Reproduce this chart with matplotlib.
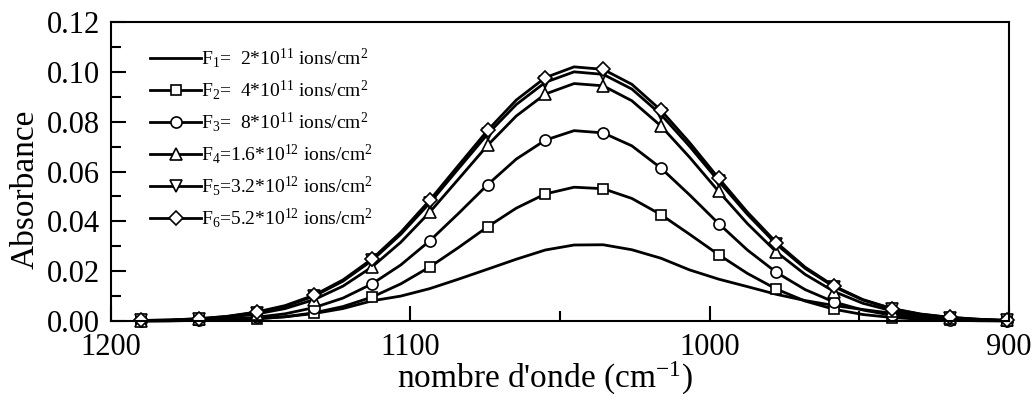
import numpy as np
import matplotlib
matplotlib.use("Agg")
import matplotlib.pyplot as plt
from matplotlib.ticker import MultipleLocator

plt.rcParams['font.family'] = ['Liberation Serif', 'DejaVu Serif']
plt.rcParams['mathtext.fontset'] = 'custom'
plt.rcParams['mathtext.rm'] = 'Liberation Serif'
plt.rcParams['mathtext.it'] = 'Liberation Serif:italic'

# wavenumber grid (cm^-1): marker positions alternate with in-between line points
wavenumber = [1190.0, 1180.4, 1170.7, 1161.1, 1151.4, 1141.8, 1132.1, 1122.5,
              1112.8, 1103.2, 1093.5, 1083.9, 1074.2, 1064.6, 1054.9, 1045.3,
              1035.6, 1026.0, 1016.3, 1006.7, 997.0, 987.4, 977.7, 968.1,
              958.4, 948.8, 939.1, 929.5, 919.8, 910.2, 900.5]

abs_F1 = [0.0000, 0.0001, 0.0002, 0.0005, 0.0009, 0.0017, 0.0030, 0.0050,
          0.0081, 0.0100, 0.0130, 0.0168, 0.0208, 0.0248, 0.0285, 0.0305,
          0.0306, 0.0286, 0.0252, 0.0205, 0.0168, 0.0138, 0.0107, 0.0082,
          0.0062, 0.0046, 0.0031, 0.0019, 0.0010, 0.0005, 0.0002]
abs_F2 = [0.0000, 0.0001, 0.0002, 0.0004, 0.0009, 0.0017, 0.0033, 0.0058,
          0.0096, 0.0149, 0.0217, 0.0295, 0.0378, 0.0453, 0.0510, 0.0537,
          0.0531, 0.0492, 0.0427, 0.0348, 0.0266, 0.0191, 0.0128, 0.0080,
          0.0047, 0.0026, 0.0014, 0.0007, 0.0003, 0.0001, 0.0000]
abs_F3 = [0.0001, 0.0001, 0.0003, 0.0007, 0.0015, 0.0029, 0.0054, 0.0092,
          0.0149, 0.0225, 0.0322, 0.0432, 0.0547, 0.0650, 0.0726, 0.0764,
          0.0755, 0.0703, 0.0614, 0.0506, 0.0391, 0.0285, 0.0195, 0.0126,
          0.0076, 0.0044, 0.0023, 0.0012, 0.0006, 0.0002, 0.0001]
abs_F4 = [0.0001, 0.0003, 0.0007, 0.0014, 0.0028, 0.0050, 0.0086, 0.0140,
          0.0217, 0.0316, 0.0437, 0.0570, 0.0705, 0.0823, 0.0911, 0.0953,
          0.0944, 0.0884, 0.0783, 0.0657, 0.0520, 0.0391, 0.0277, 0.0187,
          0.0118, 0.0071, 0.0041, 0.0022, 0.0011, 0.0005, 0.0002]
abs_F5 = [0.0002, 0.0004, 0.0009, 0.0018, 0.0034, 0.0059, 0.0100, 0.0160,
          0.0243, 0.0348, 0.0474, 0.0612, 0.0750, 0.0869, 0.0958, 0.1000,
          0.0990, 0.0931, 0.0829, 0.0701, 0.0561, 0.0428, 0.0308, 0.0211,
          0.0137, 0.0084, 0.0049, 0.0027, 0.0014, 0.0007, 0.0002]
abs_F6 = [0.0002, 0.0004, 0.0009, 0.0019, 0.0036, 0.0062, 0.0104, 0.0165,
          0.0249, 0.0356, 0.0485, 0.0625, 0.0765, 0.0887, 0.0977, 0.1020,
          0.1010, 0.0950, 0.0846, 0.0716, 0.0573, 0.0437, 0.0315, 0.0216,
          0.0140, 0.0086, 0.0050, 0.0028, 0.0015, 0.0007, 0.0002]

labels = [r'F$_1$=  2*10$^{11}$ ions/cm$^2$',
          r'F$_2$=  4*10$^{11}$ ions/cm$^2$',
          r'F$_3$=  8*10$^{11}$ ions/cm$^2$',
          r'F$_4$=1.6*10$^{12}$ ions/cm$^2$',
          r'F$_5$=3.2*10$^{12}$ ions/cm$^2$',
          r'F$_6$=5.2*10$^{12}$ ions/cm$^2$']
series = [abs_F1, abs_F2, abs_F3, abs_F4, abs_F5, abs_F6]
markers = [None, 's', 'o', '^', 'v', 'D']
msizes = [0, 7.5, 8, 8, 8, 7]

fig = plt.figure(figsize=(10.34, 3.96), dpi=100)
ax = fig.add_axes([0.1074, 0.1894, 0.8684, 0.755])

for y, lab, m, ms in zip(series, labels, markers, msizes):
    ax.plot(wavenumber, y, color='black', lw=2, marker=m, markevery=2,
            markersize=ms, markerfacecolor='white', markeredgecolor='black',
            markeredgewidth=1.2, label=lab, clip_on=False)

ax.set_xlim(1200, 900)
ax.set_ylim(0, 0.12)
ax.xaxis.set_major_locator(MultipleLocator(100))
ax.xaxis.set_minor_locator(MultipleLocator(50))
ax.yaxis.set_major_locator(MultipleLocator(0.02))
ax.yaxis.set_minor_locator(MultipleLocator(0.01))
ax.yaxis.set_major_formatter(matplotlib.ticker.FormatStrFormatter('%.2f'))
ax.tick_params(which='both', direction='in', labelsize=22, width=1.5,
               top=False, right=False)
ax.tick_params(which='major', length=11)
ax.tick_params(which='minor', length=7)
ax.tick_params(axis='y', pad=8)
ax.tick_params(axis='x', pad=9)
for s in ax.spines.values():
    s.set_linewidth(1.5)

ax.set_xlabel(r"nombre d'onde (cm$^{-1}$)", fontsize=24)
ax.set_ylabel('Absorbance', fontsize=24)
ax.xaxis.set_label_coords(0.483, -0.13)
ax.yaxis.set_label_coords(-0.078, 0.44)

ax.legend(loc='upper left', bbox_to_anchor=(0.035, 0.945), frameon=False,
          fontsize=14, handlelength=2.6, handletextpad=0.0,
          labelspacing=0.42, borderaxespad=0)

fig.savefig('out.png', dpi=100)
